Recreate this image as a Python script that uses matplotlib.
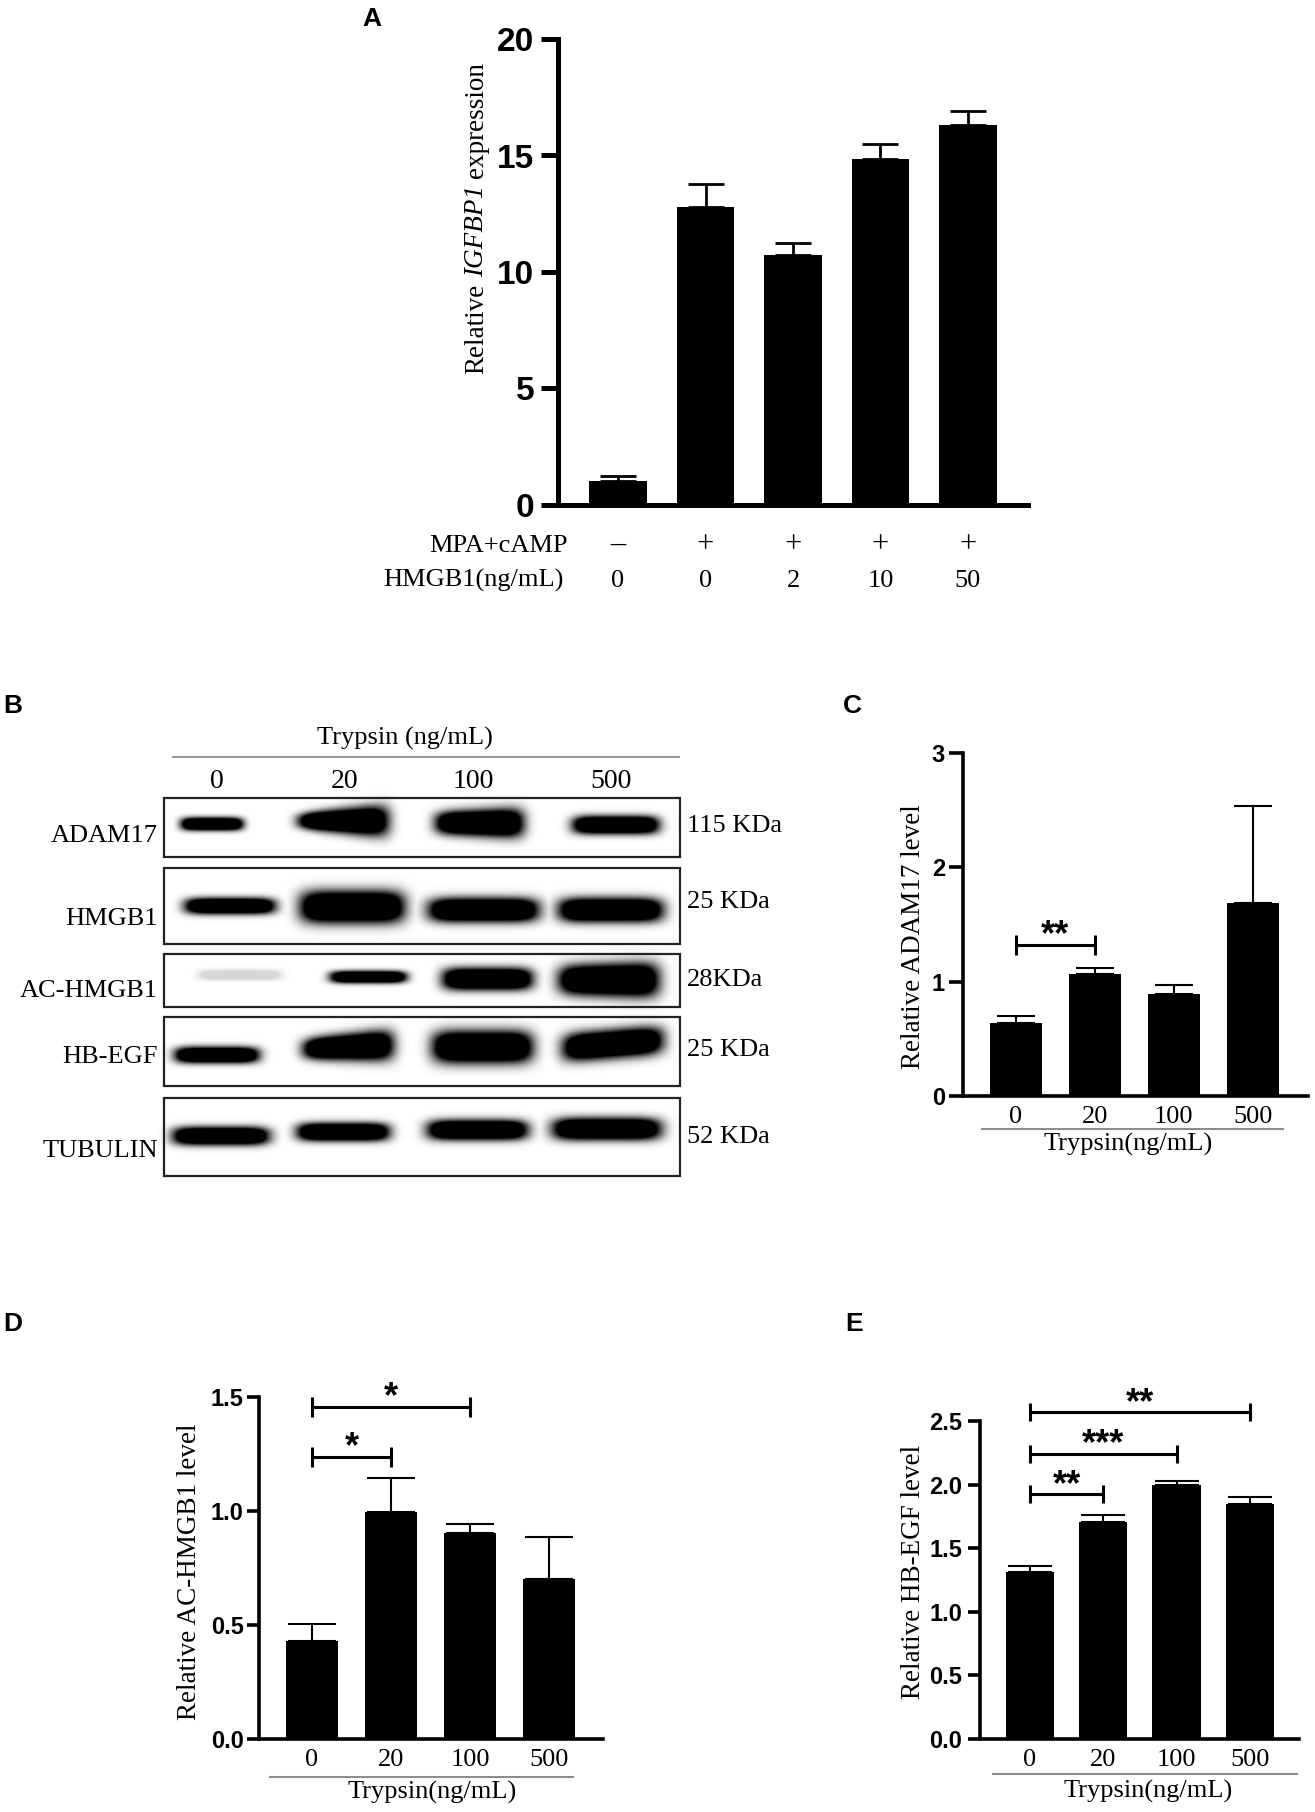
import numpy as np
import matplotlib
matplotlib.use('Agg')
import matplotlib.pyplot as plt
import matplotlib.transforms as mtrans
from matplotlib.patches import Rectangle
from matplotlib.lines import Line2D

SERIF = 'Liberation Serif'
SANS = 'Liberation Sans'

# ---- data ----
# A: IGFBP1 expression
a_mpa = ['–', '+', '+', '+', '+']
a_hmgb1 = ['0', '0', '2', '10', '50']
a_means = [1.04, 12.8, 10.73, 14.86, 16.32]
a_err = [0.22, 0.98, 0.52, 0.64, 0.58]

# B: western blot
blot_proteins = ['ADAM17', 'HMGB1', 'AC-HMGB1', 'HB-EGF', 'TUBULIN']
blot_kda = ['115 KDa', '25 KDa', '28KDa', '25 KDa', '52 KDa']
trypsin_levels = ['0', '20', '100', '500']
band_intensity = [[1, 1, 1, 1],
                  [1, 1, 1, 1],
                  [0.16, 1, 1, 1],
                  [1, 1, 1, 1],
                  [1, 1, 1, 1]]

# C: ADAM17
c_means = [0.64, 1.063, 0.891, 1.686]
c_err = [0.06, 0.056, 0.08, 0.85]
c_sig = [(0, 1, 1.32, '**')]

# D: AC-HMGB1
d_means = [0.43, 0.995, 0.903, 0.701]
d_err = [0.073, 0.149, 0.039, 0.186]
d_sig = [(0, 1, 1.237, '*'), (0, 2, 1.456, '*')]

# E: HB-EGF
e_means = [1.31, 1.703, 1.997, 1.845]
e_err = [0.05, 0.058, 0.034, 0.058]
e_sig = [(0, 1, 1.923, '**'), (0, 2, 2.24, '***'), (0, 3, 2.57, '**')]

# ---- layout helpers ----
W, H = 1315, 1812
fig = plt.figure(figsize=(W / 100, H / 100), dpi=100)


def rect(x0, y0, x1, y1):
    return [x0 / W, 1 - y1 / H, (x1 - x0) / W, (y1 - y0) / H]


def fx(x):
    return x / W


def fy(y):
    return 1 - y / H


def bar_panel(pos, means, err, ylim, yticks, yfmt, xlim, spine_w, tick_len,
              tick_fs, tick_pad, err_w, capsize):
    ax = fig.add_axes(rect(*pos))
    x = np.arange(len(means))
    ax.bar(x, means, width=0.66, color='black', zorder=2)
    ax.errorbar(x, means, yerr=[np.zeros(len(err)), err], fmt='none',
                ecolor='black', elinewidth=err_w, capsize=capsize,
                capthick=err_w, zorder=1)
    ax.set_xlim(*xlim)
    ax.set_ylim(*ylim)
    ax.set_yticks(yticks)
    ax.set_yticklabels([yfmt.format(t) for t in yticks])
    for s in ['top', 'right']:
        ax.spines[s].set_visible(False)
    for s in ['left', 'bottom']:
        ax.spines[s].set_linewidth(spine_w)
    ax.tick_params(axis='y', length=tick_len, width=spine_w, pad=tick_pad,
                   labelsize=tick_fs)
    for lab in ax.get_yticklabels():
        lab.set_fontfamily(SANS)
        lab.set_fontweight('bold')
    ax.tick_params(axis='x', length=0)
    return ax


def trypsin_axis(ax, line_y, line_x0, line_x1, label_x, label_base):
    ax.set_xticks(range(len(trypsin_levels)))
    ax.set_xticklabels(trypsin_levels, fontfamily=SERIF, fontsize=19)
    ax.tick_params(axis='x', pad=7)
    fig.add_artist(Line2D([fx(line_x0), fx(line_x1)], [fy(line_y), fy(line_y)],
                          color='#8c8c8c', lw=1.5, transform=fig.transFigure))
    fig.text(fx(label_x), fy(label_base), 'Trypsin(ng/mL)', ha='center',
             va='baseline', fontfamily=SERIF, fontsize=19)


def add_sig(ax, sigs, cap_pts):
    fs = 26
    for i0, i1, yb, stars in sigs:
        ax.plot([i0, i1], [yb, yb], color='black', lw=2.2, clip_on=False,
                marker='|', markersize=cap_pts, markeredgewidth=2.2)
        ax.annotate(stars, xy=((i0 + i1) / 2, yb), xytext=(0, 14.4 - 0.57 * fs),
                    textcoords='offset points', ha='center', va='baseline',
                    fontfamily=SANS, fontweight='bold', fontsize=fs,
                    annotation_clip=False)


def panel_letter(x, y, s):
    fig.text(fx(x), fy(y), s, ha='left', va='baseline', fontfamily=SANS,
             fontweight='bold', fontsize=19)


def vertical_mixed_label(x_base, y_center, pieces, fs):
    # pieces: list of (text, style); drawn bottom-to-top along one baseline
    renderer = fig.canvas.get_renderer()
    texts = []
    for s, style in pieces:
        t = fig.text(0, 0, s, rotation=90, rotation_mode='anchor', ha='left',
                     va='baseline', fontfamily=SERIF, fontstyle=style,
                     fontsize=fs, transform=None)
        texts.append(t)
    gap = 0.25 * fs * 100 / 72
    lengths = [t.get_window_extent(renderer).height for t in texts]
    total = sum(lengths) + gap * (len(texts) - 1)
    y = (H - y_center) - total / 2
    for t, L in zip(texts, lengths):
        t.set_position((x_base, y))
        y += L + gap


# ---- A ----
ax_a = bar_panel((558, 39, 1028, 505), a_means, a_err, (0, 20), [0, 5, 10, 15, 20],
                 '{:g}', (-0.686, 4.686), 3.6, 12, 24, 5, 2.0, 13)
ax_a.set_xticks([])
vertical_mixed_label(483, 218, [('Relative', 'normal'), ('IGFBP1', 'italic'),
                                ('expression', 'normal')], 19.5)
tr_a = mtrans.blended_transform_factory(ax_a.transData, fig.transFigure)
fig.text(fx(568), fy(552), 'MPA+cAMP', ha='right', va='baseline',
         fontfamily=SERIF, fontsize=19)
fig.text(fx(564), fy(587), 'HMGB1(ng/mL)', ha='right', va='baseline',
         fontfamily=SERIF, fontsize=19)
for i, (m, h) in enumerate(zip(a_mpa, a_hmgb1)):
    ax_a.text(i, fy(552), m, transform=tr_a, ha='center', va='baseline',
              fontfamily=SERIF, fontsize=22)
    ax_a.text(i, fy(587), h, transform=tr_a, ha='center', va='baseline',
              fontfamily=SERIF, fontsize=19)
panel_letter(362, 26, 'A')

# ---- B: blot ----
ax_b = fig.add_axes(rect(150, 790, 690, 1185))
ax_b.set_xlim(150, 690)
ax_b.set_ylim(1185, 790)
ax_b.axis('off')

box_rows = [(798, 857), (868, 944), (954, 1007), (1017, 1086), (1098, 1176)]
# band geometry per lane: centre x, centre y, half width, half height, taper, slant
band_geom = [
    [(212, 824, 31, 6.5, 0, 0), (343, 821, 45, 12, 0.35, 0), (479, 823, 44, 13, 0.15, 0), (615, 825, 43, 9, 0, 0)],
    [(230, 906, 45, 8, 0, 0), (352, 907, 52, 16, 0, 0), (483, 910, 55, 12, 0, 0), (610, 910, 52, 12, 0, 0)],
    [(240, 975, 40, 5, 0, 0), (368, 977, 38, 6, 0, 0), (487, 979, 45, 11, 0, 0), (608, 980, 50, 16, 0.1, 0)],
    [(217, 1055, 42, 8, 0, 0), (348, 1047, 45, 13, 0.2, 2), (482, 1047, 50, 16, 0, 0), (612, 1044, 50, 14, 0, 4)],
    [(221, 1136, 48, 9, 0, 0), (343, 1132, 46, 9, 0, 0), (477, 1130, 50, 10, 0, 0), (606, 1129, 54, 11, 0, 0)],
]
xs = np.arange(150, 690) + 0.5
ys = np.arange(790, 1185) + 0.5
X, Y = np.meshgrid(xs, ys)
dark = np.zeros_like(X)
for geoms, intens in zip(band_geom, band_intensity):
    for (cx, cy, hw, hh, taper, slant), inten in zip(geoms, intens):
        dx = (X - cx) / hw
        dcl = np.clip(dx, -1, 1)
        hh_loc = hh * (1 + taper * dcl)
        cy_loc = cy - slant * dcl
        dy = (Y - cy_loc) / hh_loc
        v = inten * np.clip(1.8 * np.exp(-(np.abs(dx) ** 6 + np.abs(dy) ** 2.5)), 0, 1)
        dark = np.maximum(dark, v)
ax_b.imshow(1 - dark, cmap='gray', vmin=0, vmax=1, extent=(150, 690, 1185, 790),
            origin='upper', interpolation='bilinear', aspect='auto')
for (t, b) in box_rows:
    ax_b.add_patch(Rectangle((164, t), 516, b - t, fill=False, lw=1.6,
                             edgecolor='#222222'))

label_base = [842, 925, 997, 1063, 1157]
kda_base = [832, 908, 986, 1056, 1143]
for name, kda, lb, kb in zip(blot_proteins, blot_kda, label_base, kda_base):
    fig.text(fx(158), fy(lb), name, ha='right', va='baseline',
             fontfamily=SERIF, fontsize=19)
    fig.text(fx(687), fy(kb), kda, ha='left', va='baseline',
             fontfamily=SERIF, fontsize=19)
for lx, lab in zip([217, 345, 473, 611], trypsin_levels):
    fig.text(fx(lx), fy(788), lab, ha='center', va='baseline',
             fontfamily=SERIF, fontsize=20)
fig.text(fx(405), fy(745), 'Trypsin (ng/mL)', ha='center', va='baseline',
         fontfamily=SERIF, fontsize=19)
fig.add_artist(Line2D([fx(173), fx(679)], [fy(757), fy(757)], color='#8c8c8c',
                      lw=1.3, transform=fig.transFigure))
panel_letter(3, 713, 'B')

# ---- C ----
ax_c = bar_panel((963, 753, 1308, 1096), c_means, c_err, (0, 3), [0, 1, 2, 3],
                 '{:g}', (-0.67, 3.70), 2.6, 10, 17, 3, 1.5, 14)
trypsin_axis(ax_c, 1129, 982, 1283, 1128, 1151)
add_sig(ax_c, c_sig, 14.4)
fig.text(fx(913), fy(937), 'Relative ADAM17 level', rotation=90, ha='center',
         va='center', fontfamily=SERIF, fontsize=19.5)
panel_letter(843, 713, 'C')

# ---- D ----
ax_d = bar_panel((259, 1397, 603, 1739), d_means, d_err, (0, 1.5),
                 [0, 0.5, 1.0, 1.5], '{:.1f}', (-0.67, 3.68), 2.6, 9, 17, 2, 1.5, 17)
trypsin_axis(ax_d, 1777, 270, 573, 432, 1799)
add_sig(ax_d, d_sig, 14.4)
fig.text(fx(190), fy(1572), 'Relative AC-HMGB1 level', rotation=90, ha='center',
         va='center', fontfamily=SERIF, fontsize=19.5)
panel_letter(3, 1331, 'D')

# ---- E ----
ax_e = bar_panel((980, 1421, 1299, 1739), e_means, e_err, (0, 2.5),
                 [0, 0.5, 1.0, 1.5, 2.0, 2.5], '{:.1f}', (-0.68, 3.67), 2.6, 9, 17, 4,
                 1.5, 16)
trypsin_axis(ax_e, 1774, 993, 1297, 1148, 1798)
add_sig(ax_e, e_sig, 13)
fig.text(fx(913), fy(1572), 'Relative HB-EGF level', rotation=90, ha='center',
         va='center', fontfamily=SERIF, fontsize=19.5)
panel_letter(845, 1331, 'E')

fig.savefig('out.png', dpi=100)
